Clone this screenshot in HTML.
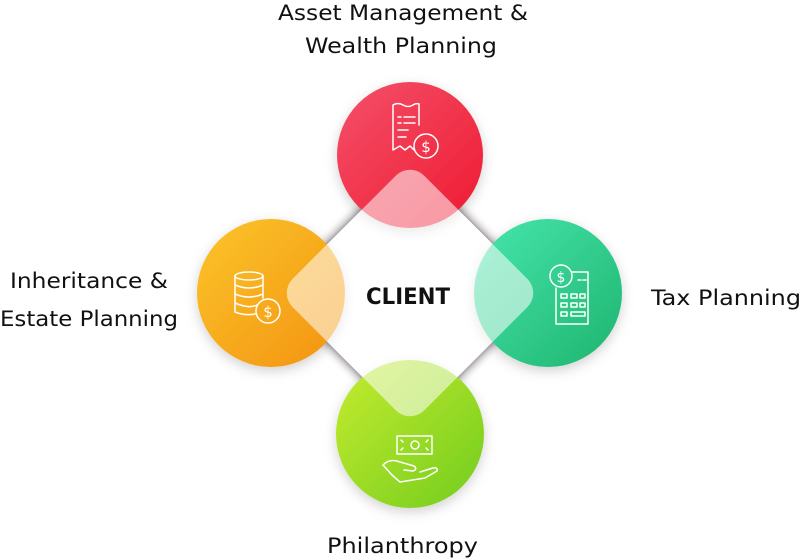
<!DOCTYPE html>
<html><head><meta charset="utf-8"><style>
html,body{margin:0;padding:0;background:#fff;width:805px;height:560px;overflow:hidden}
svg{display:block}
text{font-family:"DejaVu Sans","Liberation Sans",sans-serif;fill:#111}
</style></head><body>
<svg width="805" height="560" viewBox="0 0 805 560" xmlns="http://www.w3.org/2000/svg">
<defs>
<linearGradient id="gr" x1="0" y1="0" x2="1" y2="1"><stop offset="0" stop-color="#f4506a"/><stop offset="1" stop-color="#ee1a30"/></linearGradient>
<linearGradient id="go" x1="0" y1="0" x2="1" y2="1"><stop offset="0" stop-color="#fbc52a"/><stop offset="1" stop-color="#f39212"/></linearGradient>
<linearGradient id="gg" x1="0" y1="0" x2="1" y2="1"><stop offset="0" stop-color="#46e6ae"/><stop offset="1" stop-color="#1fb46e"/></linearGradient>
<linearGradient id="gl" x1="0" y1="0" x2="1" y2="1"><stop offset="0" stop-color="#c6ec30"/><stop offset="1" stop-color="#72cc1e"/></linearGradient>
<filter id="sh" x="-30%" y="-30%" width="160%" height="160%"><feDropShadow dx="0" dy="4" stdDeviation="6" flood-color="#000" flood-opacity="0.18"/></filter>
<filter id="dsh" x="-30%" y="-30%" width="160%" height="160%"><feDropShadow dx="0" dy="0" stdDeviation="5" flood-color="#2a1a2a" flood-opacity="0.85"/></filter>
</defs>
<rect x="317" y="200" width="186" height="186" rx="20" transform="rotate(45 410 293)" fill="#fff" filter="url(#dsh)"/>
<g filter="url(#sh)">
<circle cx="410" cy="155" r="73" fill="url(#gr)"/>
<circle cx="271" cy="293" r="74" fill="url(#go)"/>
<circle cx="548" cy="293" r="74" fill="url(#gg)"/>
<circle cx="410" cy="434" r="74" fill="url(#gl)"/>
</g>
<rect x="317" y="200" width="186" height="186" rx="20" transform="rotate(45 410 293)" fill="#fff" fill-opacity="0.55"/>
<text x="408" y="304" font-size="22" font-weight="bold" text-anchor="middle" textLength="84" lengthAdjust="spacingAndGlyphs">CLIENT</text>
<g font-size="21">
<text x="278" y="20" textLength="250" lengthAdjust="spacingAndGlyphs">Asset Management &amp;</text>
<text x="305" y="53" textLength="192" lengthAdjust="spacingAndGlyphs">Wealth Planning</text>
<text x="10" y="288" textLength="158" lengthAdjust="spacingAndGlyphs">Inheritance &amp;</text>
<text x="0" y="326" textLength="178" lengthAdjust="spacingAndGlyphs">Estate Planning</text>
<text x="651" y="305" textLength="150" lengthAdjust="spacingAndGlyphs">Tax Planning</text>
<text x="327" y="553" textLength="151" lengthAdjust="spacingAndGlyphs">Philanthropy</text>
</g>
<g fill="none" stroke="#fff" stroke-width="1.5" stroke-linecap="round" stroke-linejoin="round">
<path d="M393 105 L393 150 L400 146 L405 150 L410 146 L414 150 M393 105 Q398 102 403 105 Q408 108 413 105 Q416 103 419 104 L419 125"/>
<path d="M398 117h3M404 117h11M398 123h3M404 123h11M398 130h10M398 137h8"/>
<circle cx="426" cy="146" r="12"/>
<text x="426" y="152" font-size="15" text-anchor="middle" style="fill:#fff;stroke:none">$</text>
<ellipse cx="249" cy="276" rx="14" ry="4"/>
<path d="M235 276v36M263 276v22M235 285q14 6 28 0M235 294q14 6 28 0M235 303q14 6 22 2M235 312q10 4 20 2"/>
<circle cx="268" cy="311" r="12"/>
<text x="268" y="317" font-size="15" text-anchor="middle" style="fill:#fff;stroke:none">$</text>
<circle cx="561" cy="276" r="11"/>
<text x="561" y="282" font-size="14" text-anchor="middle" style="fill:#fff;stroke:none">$</text>
<path d="M572 272h16v52h-32v-36"/>
<path d="M578 280h3M583 280h3"/>
<rect x="561" y="294" width="6" height="4"/><rect x="571" y="294" width="6" height="4"/><rect x="580" y="294" width="5" height="4"/>
<rect x="561" y="303" width="6" height="4"/><rect x="571" y="303" width="6" height="4"/><rect x="580" y="303" width="5" height="4"/>
<rect x="561" y="312" width="6" height="4"/><rect x="571" y="312" width="14" height="4"/>
<rect x="397" y="436" width="35" height="18"/>
<circle cx="415" cy="445" r="4"/>
<path d="M401 440l2 2M428 440l-2 2M401 450l2-2M428 450l-2-2"/>
<path d="M383 465 L392 475 L400 482 L425 478 L437 471 Q438 467 433 468 L420 472 M383 465 Q390 458 400 462 L414 466 Q418 469 413 471 L404 470"/>
</g>
</svg>
</body></html>
